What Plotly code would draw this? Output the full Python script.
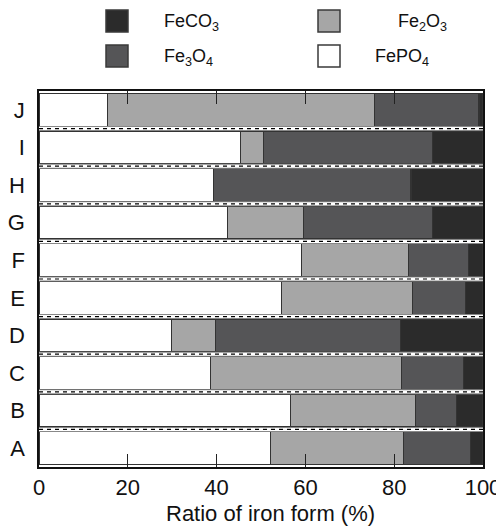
import plotly.graph_objects as go

samples = ["A", "B", "C", "D", "E", "F", "G", "H", "I", "J"]
fepo4 = [52.1, 56.7, 38.6, 29.8, 54.7, 59.2, 42.4, 39.3, 45.4, 15.4]
fe2o3 = [30.0, 28.1, 43.0, 10.0, 29.4, 24.1, 17.1, 0.0, 5.2, 60.1]
fe3o4 = [15.0, 9.3, 14.0, 41.6, 12.0, 13.4, 29.1, 44.5, 38.0, 23.6]
feco3 = [2.9, 5.9, 4.4, 18.6, 3.9, 3.3, 11.4, 16.2, 11.4, 0.9]
x_ticks = [0, 20, 40, 60, 80, 100]

names = ["FePO<sub>4</sub>", "Fe<sub>2</sub>O<sub>3</sub>",
         "Fe<sub>3</sub>O<sub>4</sub>", "FeCO<sub>3</sub>"]
values = [fepo4, fe2o3, fe3o4, feco3]
colors = ["#ffffff", "#a6a6a6", "#555557", "#2b2b2b"]

fig = go.Figure()
for name, vals, color in zip(names, values, colors):
    fig.add_trace(go.Bar(
        y=samples, x=vals, orientation="h", name=name,
        marker=dict(color=color, line=dict(color="#333333", width=1.2)),
        width=0.87, showlegend=False))

# page-pixel -> paper helpers (page has an 8px body offset)
def px_x(sx):
    return (sx - 39) / 444.0

def px_y(sy):
    return (467 - sy) / 376.0

shapes = []
for k in range(len(samples) - 1):
    yv = k + 0.5
    shapes.append(dict(type="line", xref="paper", yref="y", x0=0, x1=1, y0=yv, y1=yv,
                       line=dict(color="#888888", width=5), layer="above"))
    shapes.append(dict(type="line", xref="paper", yref="y", x0=0, x1=1, y0=yv, y1=yv,
                       line=dict(color="#ffffff", width=3), layer="above"))
    shapes.append(dict(type="line", xref="paper", yref="y", x0=0, x1=1, y0=yv, y1=yv,
                       line=dict(color="#000000", width=1.2, dash="4px,4px"), layer="above"))

# legend (2 x 2) drawn as boxes + labels
legend_items = [  # (series index, square left, square top, text left)
    (3, 106, 10, 162),
    (1, 318, 10, 396),
    (2, 106, 45, 162),
    (0, 318, 45, 373),
]
annotations = []
for idx, sx, sy, tx in legend_items:
    shapes.append(dict(type="rect", xref="paper", yref="paper",
                       x0=px_x(sx), x1=px_x(sx + 22), y0=px_y(sy + 22), y1=px_y(sy),
                       fillcolor=colors[idx], line=dict(color="#3a3a3a", width=1.5)))
    annotations.append(dict(text=names[idx], xref="paper", yref="paper",
                            x=px_x(tx), y=px_y(sy + 13), xanchor="left", yanchor="middle",
                            showarrow=False, font=dict(size=18)))

annotations.append(dict(text="Ratio of iron form (%)", xref="paper", yref="paper",
                        x=px_x(270), y=px_y(513), xanchor="center", yanchor="middle",
                        showarrow=False, font=dict(size=22)))

fig.update_layout(
    width=504, height=532,
    margin=dict(l=31, r=29, t=83, b=73, autoexpand=False),
    barmode="stack", bargap=0.13,
    plot_bgcolor="white", paper_bgcolor="white",
    font=dict(family="Liberation Sans, Arial, sans-serif", color="#111111"),
    shapes=shapes, annotations=annotations, showlegend=False,
    xaxis=dict(range=[0, 100], tickvals=x_ticks, ticks="inside", ticklen=13,
               tickcolor="#222222", tickwidth=1.2, showgrid=False, zeroline=False,
               automargin=False, showline=True, linecolor="#111111", linewidth=1.5,
               mirror="ticks", tickfont=dict(size=22)),
    yaxis=dict(range=[-0.5, 9.5], showgrid=False, zeroline=False, automargin=False,
               showline=True, linecolor="#111111", linewidth=1.5, mirror=True,
               ticks="", tickfont=dict(size=22), ticklabelstandoff=8),
)

fig.write_html("out.html")
